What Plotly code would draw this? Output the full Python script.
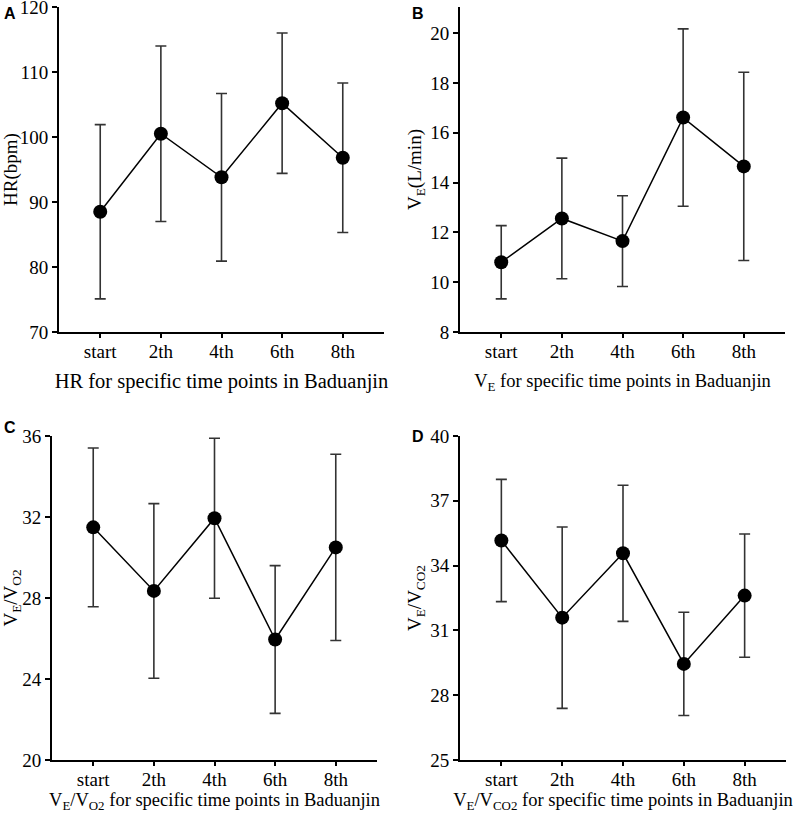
import plotly.graph_objects as go

categories = ["start", "2th", "4th", "6th", "8th"]

hr_mean = [88.5, 100.5, 93.8, 105.2, 96.8]
hr_sd = [13.4, 13.5, 12.9, 10.8, 11.5]

ve_mean = [10.80, 12.56, 11.65, 16.61, 14.65]
ve_sd = [1.47, 2.42, 1.82, 3.56, 3.78]

vo2_mean = [31.49, 28.35, 31.94, 25.95, 30.50]
vo2_sd = [3.92, 4.31, 3.95, 3.65, 4.60]

vco2_mean = [35.16, 31.59, 34.57, 29.45, 32.61]
vco2_sd = [2.83, 4.20, 3.15, 2.39, 2.85]

W, H = 800, 822
FONT = "Liberation Serif"

panels = [
    dict(mean=hr_mean, sd=hr_sd, xd=(59, 384), yd=(7, 332), yr=[70, 120], dt=10, xts=20.5, xso=13,
         ytitle="HR(bpm)", xtitle="HR for specific time points in Baduanjin", letter="A", lx=10, ly=13),
    dict(mean=ve_mean, sd=ve_sd, xd=(460, 785), yd=(7, 332), yr=[8, 21.05], dt=2, xts=18.5, xso=13,
         ytitle="V<sub>E</sub>(L/min)", xtitle="V<sub>E</sub> for specific time points in Baduanjin", letter="B", lx=418, ly=13),
    dict(mean=vo2_mean, sd=vo2_sd, xd=(52, 377), yd=(436, 760), yr=[20, 36], dt=4, xts=18.5, xso=4,
         ytitle="V<sub>E</sub>/V<sub>O2</sub>", xtitle="V<sub>E</sub>/V<sub>O2</sub> for specific time points in Baduanjin", letter="C", lx=10, ly=427),
    dict(mean=vco2_mean, sd=vco2_sd, xd=(460, 786), yd=(436, 760), yr=[25, 40], dt=3, xts=18.5, xso=4,
         ytitle="V<sub>E</sub>/V<sub>CO2</sub>", xtitle="V<sub>E</sub>/V<sub>CO2</sub> for specific time points in Baduanjin", letter="D", lx=418, ly=437),
]

fig = go.Figure()
annotations = []
for i, p in enumerate(panels, start=1):
    sfx = "" if i == 1 else str(i)
    fig.add_trace(go.Scatter(
        x=categories, y=p["mean"], mode="lines+markers",
        line=dict(color="black", width=1.5),
        marker=dict(color="black", size=14),
        error_y=dict(type="data", array=p["sd"], visible=True, color="#333333", thickness=1.6, width=5.5),
        xaxis="x" + sfx, yaxis="y" + sfx, showlegend=False, cliponaxis=False,
    ))
    ax = dict(
        domain=[p["xd"][0] / W, p["xd"][1] / W], anchor="y" + sfx,
        type="category", range=[-0.68, 4.68], automargin=False,
        showline=True, linecolor="black", linewidth=2, mirror=False,
        ticks="outside", ticklen=4, tickwidth=2, tickcolor="black",
        showgrid=False, zeroline=False, ticklabeloverflow="allow", ticklabelstandoff=-3,
        tickfont=dict(family=FONT, size=19, color="black"),
        title=dict(text=p["xtitle"], font=dict(family=FONT, size=p["xts"], color="black"), standoff=p["xso"]),
    )
    ay = dict(
        domain=[1 - p["yd"][1] / H, 1 - p["yd"][0] / H], anchor="x" + sfx,
        range=p["yr"], dtick=p["dt"], tick0=p["yr"][0], automargin=False,
        showline=True, linecolor="black", linewidth=2,
        ticks="outside", ticklen=5, tickwidth=2, tickcolor="black",
        showgrid=False, zeroline=False, ticklabeloverflow="allow",
        tickfont=dict(family=FONT, size=19, color="black"),
        title=dict(text=p["ytitle"], font=dict(family=FONT, size=19, color="black"), standoff=4),
    )
    fig.layout["xaxis" + sfx] = ax
    fig.layout["yaxis" + sfx] = ay
    annotations.append(dict(
        text="<b>%s</b>" % p["letter"], x=p["lx"] / W, y=1 - p["ly"] / H,
        xref="paper", yref="paper", showarrow=False, xanchor="center", yanchor="middle",
        font=dict(family="Liberation Sans, Arial, sans-serif", size=16, color="black"),
    ))

fig.update_layout(
    width=W, height=H, margin=dict(l=0, r=0, t=0, b=0, autoexpand=False),
    paper_bgcolor="white", plot_bgcolor="white",
    font=dict(family=FONT, size=19, color="black"),
    annotations=annotations,
)

fig.write_html("out.html", config={"displayModeBar": False},
               post_script="document.body.style.margin='0';document.body.style.padding='0';")
